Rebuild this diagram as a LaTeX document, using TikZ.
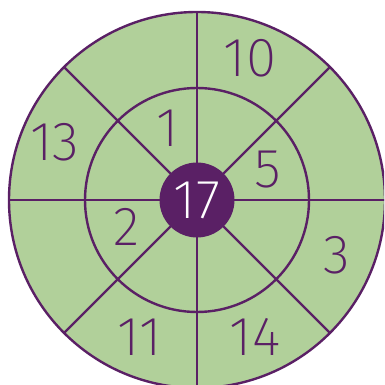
\documentclass[tikz,border=0pt]{standalone}
\usepackage{fontspec}
\newfontfamily\digitfont{Fira Sans ExtraLight}
\usetikzlibrary{positioning}
\definecolor{dartgreen}{HTML}{B1D09A}
\definecolor{dartpurple}{HTML}{5A2065}

\begin{document}
\begin{tikzpicture}[x=1pt, y=1pt,
  ring/.style={draw=dartpurple, line width=2.4pt},
  num/.style={text=dartpurple, inner sep=0pt, font=\digitfont\fontsize{55}{55}\selectfont}]
\useasboundingbox (0,0) rectangle (384,385);
\clip (0,0) rectangle (384,385);
\coordinate (c) at (197,185);

% Outer disc and inner ring
\draw[ring, fill=dartgreen] (c) circle (188);
\draw[ring] (c) circle (112);

% Spokes
\foreach \a in {0, 45, 90, 135} {
  \draw[ring, shift={(c)}] (\a:188) -- (\a+180:188);
}

% Centre
\node[circle, fill=dartpurple, minimum size=75pt, inner sep=0pt, text=white,
  font=\digitfont\fontsize{55}{55}\selectfont] (centre) at (c) {17};

% Inner ring numbers
\node[num] (n1) at (168,257) {1};
\node[num] (n5) at (268,215) {5};
\node[num] (n2) at (127,158) {2};

% Outer ring numbers
\node[num] (n10) at (250,327) {10};
\node[num] (n13) at (55,243) {13};
\node[num] (n3) at (337,130) {3};
\node[num] (n11) at (140,48) {11};
\node[num] (n14) at (255,48) {14};

\end{tikzpicture}
\end{document}
